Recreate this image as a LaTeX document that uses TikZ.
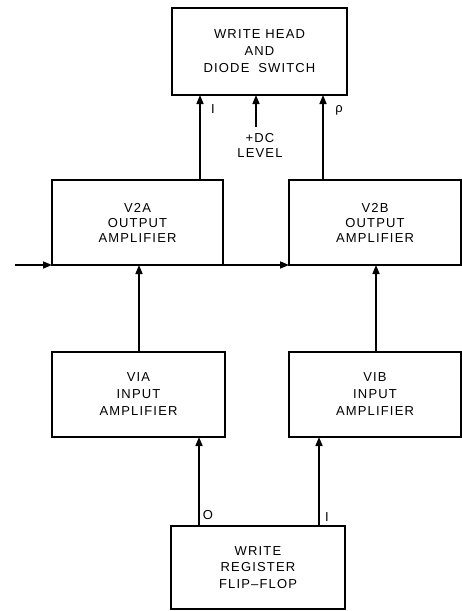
\documentclass[tikz,border=0pt]{standalone}
\usepackage{fontspec}
\setmainfont{Liberation Sans}[LetterSpace=9]
\usetikzlibrary{arrows.meta}
\begin{document}
\begin{tikzpicture}[x=1pt,y=-1pt,line width=1.6pt,
  blk/.style={draw,line width=1.6pt,inner sep=0pt,outer sep=0pt,align=center,font=\fontsize{13}{17}\selectfont},
  lbl/.style={inner sep=0pt,align=center,font=\fontsize{13}{15}\selectfont},
  arr/.style={-{Triangle[length=9pt,width=7pt]}}]
\useasboundingbox (0,0) rectangle (462,611);
% boxes
\node[blk,minimum width=175pt,minimum height=87pt] (top) at (259.5,51.5) {WRITE HEAD\\AND\\DIODE\hspace{4pt} SWITCH};
\node[blk,minimum width=171pt,minimum height=85pt,font=\fontsize{13}{15}\selectfont] (v2a) at (137.5,222.5) {V2A\\OUTPUT\\AMPLIFIER};
\node[blk,minimum width=172pt,minimum height=85pt,font=\fontsize{13}{15}\selectfont] (v2b) at (375,222.5) {V2B\\OUTPUT\\AMPLIFIER};
\node[blk,minimum width=173pt,minimum height=85pt] (v1a) at (138.5,394.5) {VIA\\INPUT\\AMPLIFIER};
\node[blk,minimum width=172pt,minimum height=85pt] (v1b) at (375,394.5) {VIB\\INPUT\\AMPLIFIER};
\node[blk,minimum width=174pt,minimum height=83pt,font=\fontsize{13}{16.5}\selectfont] (ff) at (258,567.5) {WRITE\\REGISTER\\FLIP–FLOP};
% labels
\node[lbl] (l1) at (213,109) {I};
\node[lbl] (l0) at (339,110) {ρ};
\node[lbl] (dc) at (260,145.5) {+DC\\LEVEL};
\node[lbl] (f0) at (208,515) {O};
\node[lbl] (f1) at (327,517) {I};
% coordinates for connector columns
\coordinate (ca) at (200,0);
\coordinate (cb) at (323,0);
\coordinate (cdc) at (256,127);
\coordinate (cin) at (15,0);
\coordinate (cv1a) at (139,0);
\coordinate (cv1b) at (376,0);
\coordinate (cfa) at (199,0);
\coordinate (cfb) at (319,0);
% connectors
\draw[arr] (v2a.north -| ca) -- (top.south -| ca);
\draw[arr] (v2b.north -| cb) -- (top.south -| cb);
\draw[arr] (cdc) -- (top.south -| cdc);
\draw[arr] (cin |- v2a.south) -- (v2a.south west);
\draw[arr] (v2a.south east) -- (v2b.south west);
\draw[arr] (v1a.north -| cv1a) -- (v2a.south -| cv1a);
\draw[arr] (v1b.north -| cv1b) -- (v2b.south -| cv1b);
\draw[arr] (ff.north -| cfa) -- (v1a.south -| cfa);
\draw[arr] (ff.north -| cfb) -- (v1b.south -| cfb);
\end{tikzpicture}
\end{document}
